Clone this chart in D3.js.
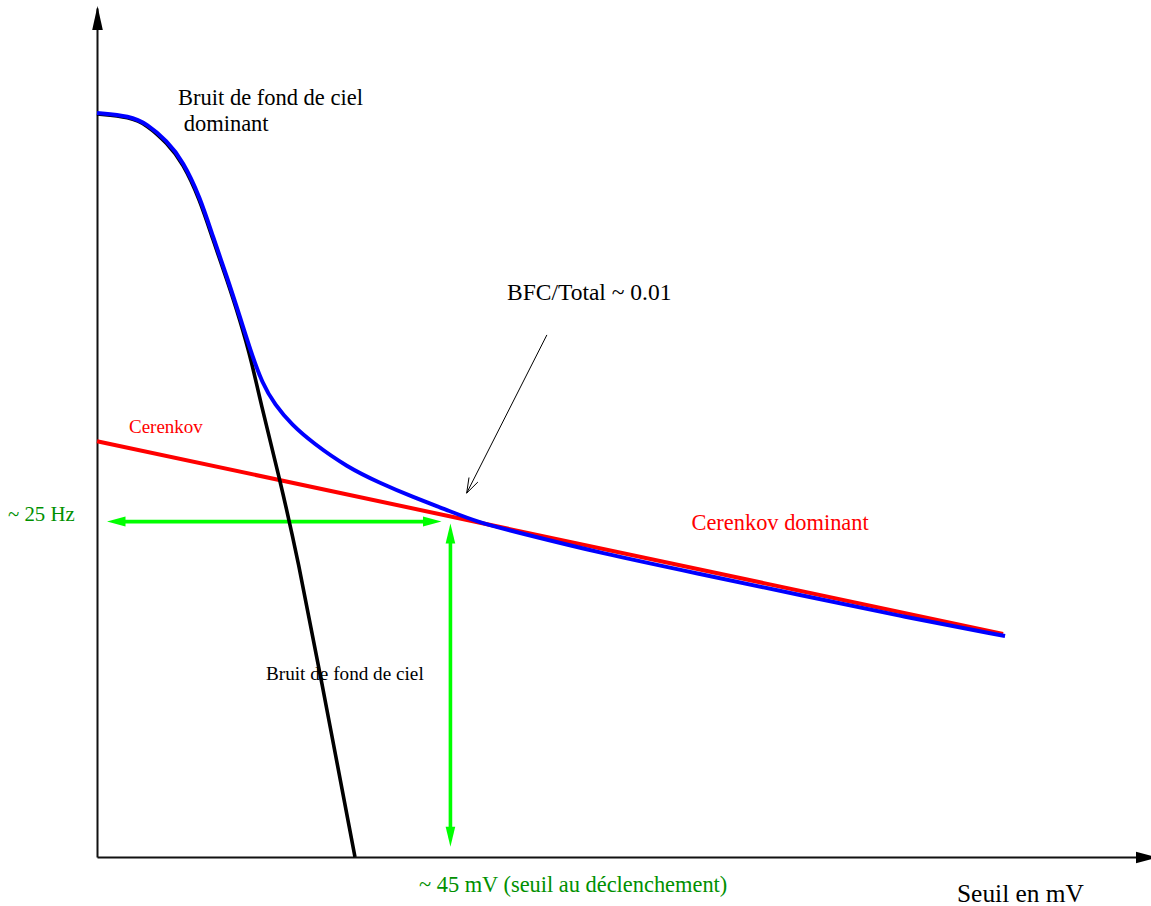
<!DOCTYPE html>
<html>
<head>
<meta charset="utf-8">
<script src="https://cdn.jsdelivr.net/npm/d3@7"></script>
<style>
  body { margin: 0; background: #fff; }
  svg { display: block; background: #fff; }
  text { font-family: "Liberation Serif", "Times New Roman", Times, serif; }
</style>
</head>
<body>
<svg id="chart" width="1151" height="906"></svg>
<script>
// Sky background noise rate (Hz) versus trigger threshold (mV)
const bfcMV = [0, 4.20, 6.36, 8.90, 10.93, 13.10, 14.75, 16.53, 18.18, 19.71, 20.72, 23.27, 25.56, 28.35, 32.80];
const bfcHz = [55.13, 54.91, 54.32, 52.98, 51.50, 48.75, 45.78, 42.82, 39.85, 36.66, 33.91, 27.98, 22.04, 13.65, 0];

// Total rate (sky background + Cerenkov)
const totalMV = [0, 4.20, 6.36, 8.90, 10.93, 13.10, 14.75, 16.53, 18.18, 19.58, 20.98, 22.63, 24.79, 27.46, 31.79, 35.98, 40.18, 44.50, 48.31, 53.78, 63.96, 76.67, 89.38, 102.10, 115.45];
const totalHz = [55.21, 54.99, 54.40, 53.13, 51.65, 48.97, 46.01, 43.04, 40.07, 37.47, 35.17, 33.54, 32.06, 30.72, 28.94, 27.75, 26.71, 25.75, 24.86, 24.04, 22.56, 21.00, 19.44, 17.88, 16.40];

// Cerenkov rate
const cerenkovMV = [0, 115.2];
const cerenkovHz = [30.85, 16.55];

// Operating point
const thresholdMV = 45;
const thresholdHz = 25;
const rateArrowMV = [1.27, 43.8];
const thresholdArrowHz = [0.76, 24.75];

// Pointer for the BFC/Total ratio
const pointerMV = [57.2, 47.0];
const pointerHz = [38.74, 27.0];

const labels = [
  { lines: ["Bruit de fond de ciel", " dominant"], x: 178, y: 105, dy: 25.5, size: 22.5, color: "#000" },
  { lines: ["BFC/Total ~ 0.01"], x: 507, y: 300, size: 23.5, color: "#000" },
  { lines: ["Cerenkov"], x: 129, y: 433, size: 19, color: "#ff0000" },
  { lines: ["Cerenkov dominant"], x: 691.5, y: 530, size: 22.4, color: "#ff0000" },
  { lines: ["~ 25 Hz"], x: 8, y: 521, size: 20.8, color: "#009000" },
  { lines: ["~ 45 mV (seuil au déclenchement)"], x: 419, y: 891.5, size: 22.4, color: "#009000" },
  { lines: ["Seuil en mV"], x: 957, y: 901.5, size: 25.4, color: "#000" }
];

const svg = d3.select("#chart");

const x = d3.scaleLinear().domain([0, 133.5]).range([97, 1147]);
const y = d3.scaleLinear().domain([0, 63]).range([857, 8]);

const zip = (xs, ys) => xs.map((v, i) => [v, ys[i]]);
const smooth = d3.line().x(d => x(d[0])).y(d => y(d[1])).curve(d3.curveBasis);
const straight = d3.line().x(d => x(d[0])).y(d => y(d[1]));

// Filled triangular head: tip at (tx,ty), pointing along (dx,dy)
function headPoints(tx, ty, dx, dy, len, half) {
  const n = Math.hypot(dx, dy); const ux = dx / n, uy = dy / n;
  const bx = tx - ux * len, by = ty - uy * len;
  return [[tx, ty], [bx - uy * half, by + ux * half], [bx + uy * half, by - ux * half]];
}

// Axes (no ticks), with arrow heads
const xAxis = svg.append("g").attr("transform", `translate(0,${y(0)})`)
  .call(d3.axisBottom(x).tickValues([]).tickSizeOuter(0));
const yAxis = svg.append("g").attr("transform", `translate(${x(0)},0)`)
  .call(d3.axisLeft(y).tickValues([]).tickSizeOuter(0));
[xAxis, yAxis].forEach(g => g.select(".domain").attr("stroke", "#111").attr("stroke-width", 2));

svg.append("polygon")
  .attr("points", headPoints(x(0) + 0.5, 6, 0, -1, 24, 5.3).join(" "))
  .attr("fill", "#000");
svg.append("polygon")
  .attr("points", headPoints(1157, y(0) + 0.5, 1, 0, 21, 5.8).join(" "))
  .attr("fill", "#000");

// Lower label for the sky background curve, sits under the curves
svg.append("text")
  .attr("x", 266).attr("y", 679.5).attr("font-size", 19.2).attr("fill", "#000")
  .text("Bruit de fond de ciel");

// Green double arrows marking the operating point
const green = "#00ff00";
const gy = y(thresholdHz);
const hx0 = x(rateArrowMV[0]), hx1 = x(rateArrowMV[1]);
svg.append("line").attr("x1", hx0 + 16).attr("x2", hx1 - 16).attr("y1", gy + 1.5).attr("y2", gy + 1.5)
  .attr("stroke", green).attr("stroke-width", 3.6);
svg.append("polygon").attr("points", headPoints(hx0, gy + 1.5, -1, 0, 18.5, 5).join(" ")).attr("fill", green);
svg.append("polygon").attr("points", headPoints(hx1, gy + 1.5, 1, 0, 18.5, 5).join(" ")).attr("fill", green);

const gx = x(thresholdMV) - 0.5;
const vy0 = y(thresholdArrowHz[0]), vy1 = y(thresholdArrowHz[1]);
svg.append("line").attr("x1", gx).attr("x2", gx).attr("y1", vy1 + 18).attr("y2", vy0 - 18)
  .attr("stroke", green).attr("stroke-width", 3.6);
svg.append("polygon").attr("points", headPoints(gx, vy1, 0, -1, 20, 4.8).join(" ")).attr("fill", green);
svg.append("polygon").attr("points", headPoints(gx, vy0, 0, 1, 20, 4.8).join(" ")).attr("fill", green);

// Curves
svg.append("path").datum(zip(cerenkovMV, cerenkovHz)).attr("d", straight)
  .attr("fill", "none").attr("stroke", "#ff0000").attr("stroke-width", 4);
svg.append("path").datum(zip(bfcMV, bfcHz)).attr("d", smooth)
  .attr("fill", "none").attr("stroke", "#000").attr("stroke-width", 3.6);
svg.append("path").datum(zip(totalMV, totalHz)).attr("d", smooth)
  .attr("fill", "none").attr("stroke", "#0000ff").attr("stroke-width", 4);

// Pointer with open head
const p0 = [x(pointerMV[0]), y(pointerHz[0])], p1 = [x(pointerMV[1]), y(pointerHz[1])];
svg.append("line").attr("x1", p0[0]).attr("y1", p0[1]).attr("x2", p1[0]).attr("y2", p1[1])
  .attr("stroke", "#000").attr("stroke-width", 1);
const ph = headPoints(p1[0], p1[1], p1[0] - p0[0], p1[1] - p0[1], 15, 5);
svg.append("path").attr("d", `M${ph[1][0]},${ph[1][1]}L${ph[0][0]},${ph[0][1]}L${ph[2][0]},${ph[2][1]}`)
  .attr("fill", "none").attr("stroke", "#000").attr("stroke-width", 1);

// Text labels
labels.forEach(l => {
  const t = svg.append("text").attr("x", l.x).attr("y", l.y)
    .attr("font-size", l.size).attr("fill", l.color)
    .style("white-space", "pre");
  l.lines.forEach((s, i) => {
    t.append("tspan").attr("x", l.x).attr("dy", i === 0 ? 0 : l.dy).text(s);
  });
});
</script>
</body>
</html>
